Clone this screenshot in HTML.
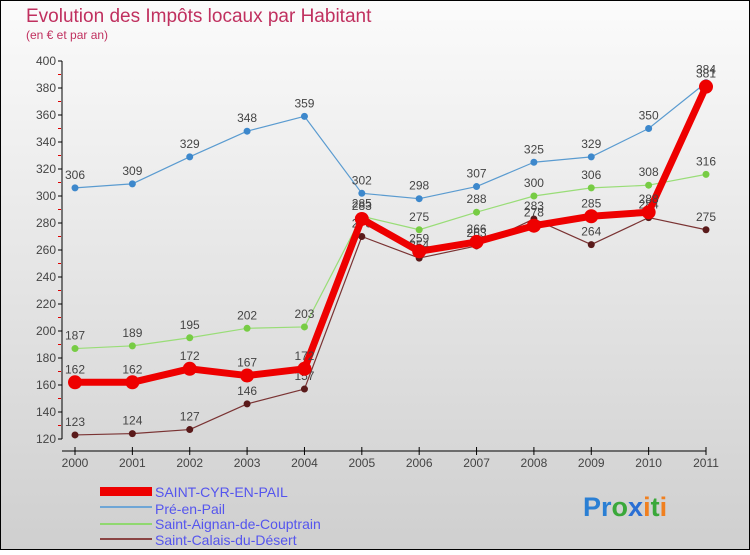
<!DOCTYPE html>
<html><head><meta charset="utf-8"><style>
body{margin:0}
#c{width:750px;height:550px;position:relative;font-family:"Liberation Sans",sans-serif;}
</style></head><body>
<div id="c">
<svg id="s" width="750" height="550" xmlns="http://www.w3.org/2000/svg" font-family="Liberation Sans, sans-serif">
<defs><linearGradient id="bg" x1="0" y1="0" x2="0" y2="1"><stop offset="0" stop-color="#fbfbfb"/><stop offset="1" stop-color="#cfcfcf"/></linearGradient></defs>
<rect x="0.5" y="0.5" width="749" height="549" fill="url(#bg)" stroke="#000"/>
<text x="26" y="22" font-size="19" fill="#c0305f">Evolution des Impôts locaux par Habitant</text>
<text x="26" y="39" font-size="12" fill="#c0305f">(en € et par an)</text>
<g id="axes"></g><g id="series"></g>
<g>
<rect x="100" y="487" width="52" height="9" fill="#e00"/>
<text x="155" y="497" font-size="14" fill="#5555ee">SAINT-CYR-EN-PAIL</text>
<line x1="100" y1="507" x2="152" y2="507" stroke="#6fa6d6" stroke-width="2"/>
<text x="155" y="514" font-size="14" fill="#5555ee">Pré-en-Pail</text>
<line x1="100" y1="524" x2="152" y2="524" stroke="#90d870" stroke-width="2"/>
<text x="155" y="529" font-size="14" fill="#5555ee">Saint-Aignan-de-Couptrain</text>
<line x1="100" y1="539" x2="152" y2="539" stroke="#8a4444" stroke-width="2"/>
<text x="155" y="545" font-size="14" fill="#5555ee">Saint-Calais-du-Désert</text>
</g>
<text x="583" y="516" font-size="27" font-weight="bold"><tspan fill="#2a7fd4">Pr</tspan><tspan fill="#3aa83a">o</tspan><tspan fill="#2a6fd4">x</tspan><tspan fill="#f08020">i</tspan><tspan fill="#3aa83a">t</tspan><tspan fill="#f08020">i</tspan></text>
</svg></div>
<script>
const years=[2000,2001,2002,2003,2004,2005,2006,2007,2008,2009,2010,2011];
const yTicks=[120,140,160,180,200,220,240,260,280,300,320,340,360,380,400];
const saintCyr=[162,162,172,167,172,283,259,266,278,285,288,381];
const preEnPail=[306,309,329,348,359,302,298,307,325,329,350,384];
const saintAignan=[187,189,195,202,203,285,275,288,300,306,308,316];
const saintCalais=[123,124,127,146,157,270,254,263,283,264,284,275];
const NS="http://www.w3.org/2000/svg";
const X=i=>75+i*(706-75)/11;
const Y=v=>439-(v-120)*(439-61)/280;
function mk(t,a,p){const e=document.createElementNS(NS,t);for(const k in a)e.setAttribute(k,a[k]);p.appendChild(e);return e;}
const ax=document.getElementById('axes');
const yl=mk('line',{x1:62,y1:61,x2:62,y2:439,stroke:'#000'},ax);


const xl=mk('line',{x1:62,y1:451,x2:706,y2:451,stroke:'#000'},ax);


yTicks.forEach(v=>{const y=Y(v);mk('line',{x1:58,y1:y,x2:62,y2:y,stroke:'#000'},ax);
 if(v<400)mk('line',{x1:58,y1:y-13.5,x2:61,y2:y-13.5,stroke:'#d00'},ax);
 const t=mk('text',{x:56,y:y+4,'text-anchor':'end','font-size':12,fill:'#444'},ax);t.textContent=v;
 
 });
years.forEach((yr,i)=>{const x=X(i);mk('line',{x1:x,y1:447,x2:x,y2:455,stroke:'#000'},ax);
 const t=mk('text',{x:x,y:467,'text-anchor':'middle','font-size':12,fill:'#444'},ax);t.textContent=yr;
 
 });
const sg=document.getElementById('series');
function series(d,col,w,r,dot,name){const g=mk('g',{},sg);
 
 
 mk('polyline',{points:d.map((v,i)=>X(i)+','+Y(v)).join(' '),fill:'none',stroke:col,'stroke-width':w,'stroke-linejoin':'round'},g);
 d.forEach((v,i)=>{const c=mk('circle',{cx:X(i),cy:Y(v),r:r,fill:dot},g);
  
  
  const t=mk('text',{x:X(i),y:Y(v)-9,'text-anchor':'middle','font-size':12,fill:'#444'},g);t.textContent=v;});}
series(preEnPail,'#5a9bd0',1.2,3.5,'#3d88cc','pre-en-pail-series');
series(saintAignan,'#99dd77',1.2,3.5,'#77cc44','saint-aignan-series');
series(saintCalais,'#7a3333',1.2,3.5,'#5a1a1a','saint-calais-series');
series(saintCyr,'#ee0000',7,7,'#ee0000','saint-cyr-series');
</script>
</body></html>
